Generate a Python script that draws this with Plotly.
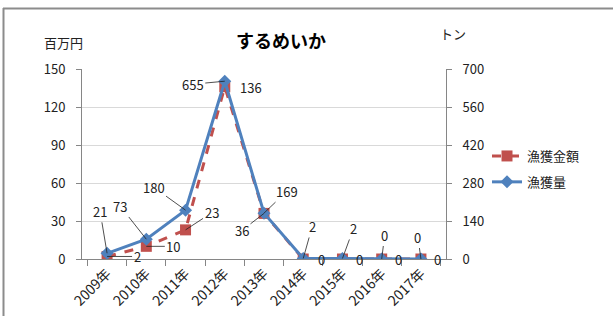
import plotly.graph_objects as go

years = ["2009年", "2010年", "2011年", "2012年", "2013年", "2014年", "2015年", "2016年", "2017年"]
amount = [2, 10, 23, 136, 36, 0, 0, 0, 0]        # 漁獲金額 (百万円)
volume = [21, 73, 180, 655, 169, 2, 2, 0, 0]     # 漁獲量 (トン)

# label offsets (pixels) for data labels
amt_off = [(30, 0, True), (27, 0, True), (26, -17, True), (26, 1, False), (-22, 17, True),
           (18, 0, False), (17, 0, False), (17, 0, False), (17, 0, False)]
vol_off = [(-7, -42), (-26, -33), (-32, -23), (-32, 3), (23, -22),
           (9, -32), (11, -30), (3, -24), (-3, -22)]

FONT = "Noto Sans CJK JP, Noto Sans, sans-serif"
RED = "#C0504D"
BLUE = "#4F81BD"

L, R, T, B = 82, 446, 69, 259
W, H = 613, 316
def px(x): return (x - L) / (R - L)
def py(y): return (B - y) / (B - T)

fig = go.Figure()
fig.add_trace(go.Scatter(
    x=years, y=amount, name="漁獲金額", yaxis="y", legendgroup="a",
    mode="lines+markers",
    line=dict(color=RED, width=3, dash="dash"),
    marker=dict(symbol="square", size=11, color=RED),
))
fig.add_trace(go.Scatter(
    x=years, y=volume, name="漁獲量", yaxis="y2", legendgroup="b",
    mode="lines+markers",
    line=dict(color=BLUE, width=3),
    marker=dict(symbol="diamond", size=10, color=BLUE),
))

ann = []
for i, (yr, v) in enumerate(zip(years, amount)):
    ax, ay, arrow = amt_off[i]
    if arrow:
        ann.append(dict(x=yr, y=v, yref="y", text=str(v), showarrow=True,
                        ax=ax, ay=ay, arrowhead=0, arrowwidth=0.8, arrowcolor="#222",
                        standoff=0, font=dict(size=13, color="#222")))
    else:
        ann.append(dict(x=yr, y=v, yref="y", text=str(v), showarrow=False,
                        xshift=ax, yshift=-ay, font=dict(size=13, color="#222")))
for i, (yr, v) in enumerate(zip(years, volume)):
    ax, ay = vol_off[i]
    ann.append(dict(x=yr, y=v, yref="y2", text=str(v), showarrow=True,
                    ax=ax, ay=ay, arrowhead=0, arrowwidth=0.8, arrowcolor="#222",
                    standoff=0, font=dict(size=13, color="#222")))

ann += [
    dict(xref="paper", yref="paper", x=px(281), y=py(40), text="<b>するめいか</b>",
         xanchor="center", yanchor="middle",
         showarrow=False, font=dict(size=18, color="#000")),
    dict(xref="paper", yref="paper", x=px(63), y=py(42), text="百万円",
         xanchor="center", yanchor="middle",
         showarrow=False, font=dict(size=13, color="#222")),
    dict(xref="paper", yref="paper", x=px(453), y=py(33), text="トン",
         xanchor="center", yanchor="middle",
         showarrow=False, font=dict(size=13, color="#222")),
]

shapes = [
    dict(type="line", xref="paper", yref="paper", x0=px(3), x1=px(613), y0=py(8.5), y1=py(8.5),
         line=dict(color="#8c8c8c", width=2)),
    dict(type="line", xref="paper", yref="paper", x0=px(3.5), x1=px(3.5), y0=py(8), y1=py(316),
         line=dict(color="#8c8c8c", width=2)),
]

fig.update_layout(
    width=W, height=H,
    margin=dict(l=L, r=W - R, t=T, b=H - B, pad=0),
    paper_bgcolor="white", plot_bgcolor="white",
    font=dict(family=FONT, size=13, color="#222"),
    showlegend=True,
    legend=dict(x=px(487), y=py(141), xanchor="left", yanchor="top",
                font=dict(size=13), tracegroupgap=6, bgcolor="rgba(0,0,0,0)"),
    xaxis=dict(type="category", showline=True, linecolor="#868686", linewidth=1,
               ticks="outside", ticklen=6, tickcolor="#868686", tickson="boundaries",
               tickangle=-45, showgrid=False, tickfont=dict(size=14), automargin=False),
    yaxis=dict(range=[0, 150], tickvals=[0, 30, 60, 90, 120, 150], showline=True,
               linecolor="#868686", linewidth=1, ticks="outside", ticklen=5,
               tickcolor="#868686", showgrid=True, gridcolor="#d9d9d9", gridwidth=1,
               zeroline=False, ticklabelstandoff=8, tickfont=dict(size=13), automargin=False),
    yaxis2=dict(range=[0, 700], tickvals=[0, 140, 280, 420, 560, 700], overlaying="y",
                side="right", showline=True, linecolor="#868686", linewidth=1,
                ticks="outside", ticklen=5, tickcolor="#868686", showgrid=False,
                zeroline=False, ticklabelstandoff=8, tickfont=dict(size=13), automargin=False),
    annotations=ann, shapes=shapes,
)

fig.write_html("out.html", config={"displayModeBar": False},
               post_script="document.body.style.margin='0';document.body.style.padding='0';")
